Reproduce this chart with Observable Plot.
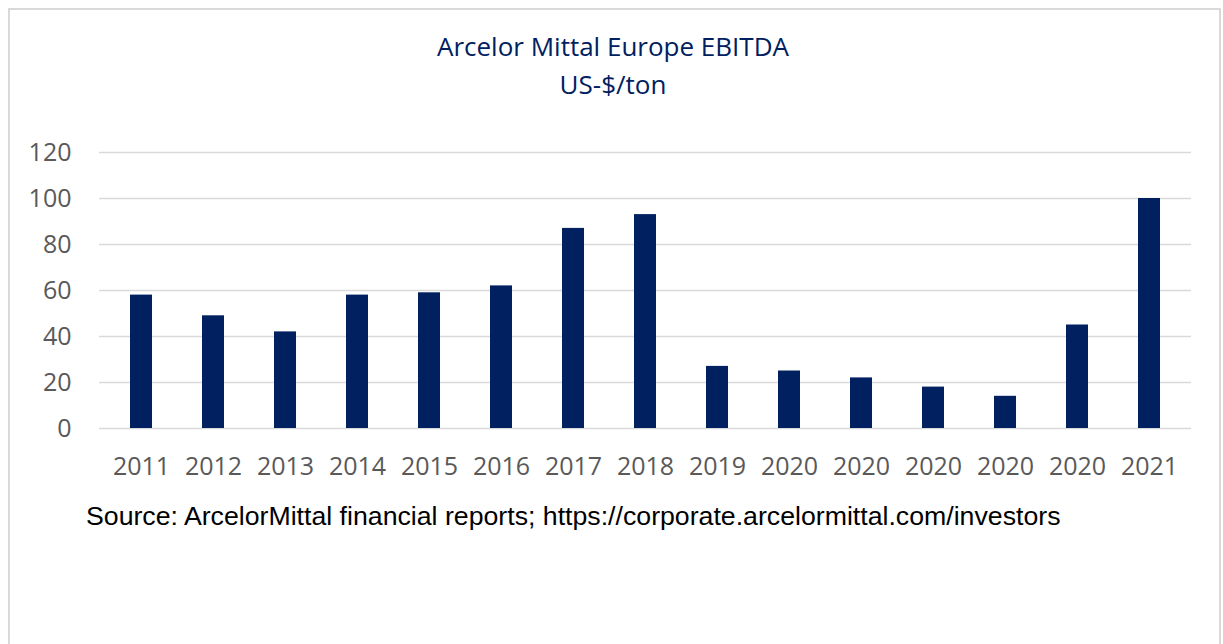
<!DOCTYPE html>
<html>
<head>
<meta charset="utf-8">
<script src="https://cdn.jsdelivr.net/npm/d3@7"></script>
<script src="https://cdn.jsdelivr.net/npm/@observablehq/plot@0.6"></script>
<style>
  html, body { margin: 0; padding: 0; background: #fff; width: 1223px; height: 644px; overflow: hidden; }
  #frame { position: absolute; left: 8px; top: 8px; width: 1209px; height: 700px; border: 2px solid #d9d9d9; box-sizing: content-box; }
  #title { position: absolute; left: 0; width: 1226px; top: 27px; text-align: center; font-family: "Open Sans", sans-serif; font-size: 26px; line-height: 38px; color: #002060; }
  #chart { position: absolute; left: 0; top: 0; }
  #caption { position: absolute; left: 86px; top: 503px; font-family: "Liberation Sans", Arial, sans-serif; font-size: 26.7px; line-height: 1; color: #000; white-space: nowrap; }
</style>
</head>
<body>
<div id="frame"></div>
<div id="title">Arcelor Mittal Europe EBITDA<br>US-$/ton</div>
<div id="chart"></div>
<div id="caption">Source: ArcelorMittal financial reports; https://corporate.arcelormittal.com/investors</div>
<script>
const labels = ["2011","2012","2013","2014","2015","2016","2017","2018","2019","2020","2020","2020","2020","2020","2021"];
const values = [58, 49, 42, 58, 59, 62, 87, 93, 27, 25, 22, 18, 14, 45, 100];
const yTicks = [0, 20, 40, 60, 80, 100, 120];

const data = labels.map((l, i) => ({i, label: l, value: values[i]}));

const chart = Plot.plot({
  width: 1223,
  height: 488,
  marginLeft: 99,
  marginRight: 32,
  marginTop: 152,
  marginBottom: 60,
  style: {fontFamily: "Open Sans, sans-serif", fontSize: "25px", color: "#595959", background: "transparent"},
  x: {type: "band", domain: data.map(d => d.i), paddingInner: 0.69, paddingOuter: 0.345, label: null},
  y: {domain: [0, 120], label: null},
  marks: [
    Plot.ruleY(yTicks, {stroke: "#d9d9d9", strokeWidth: 1.6}),
    Plot.barY(data, {x: "i", y: "value", fill: "#002060"}),
    Plot.axisY(yTicks, {tickSize: 0, tickPadding: 28, label: null, fontSize: 25, fill: "#595959"}),
    Plot.axisX({tickSize: 0, tickPadding: 29, label: null, fontSize: 25, fill: "#595959", tickFormat: i => labels[i]})
  ]
});
document.getElementById("chart").appendChild(chart);
</script>
</body>
</html>
